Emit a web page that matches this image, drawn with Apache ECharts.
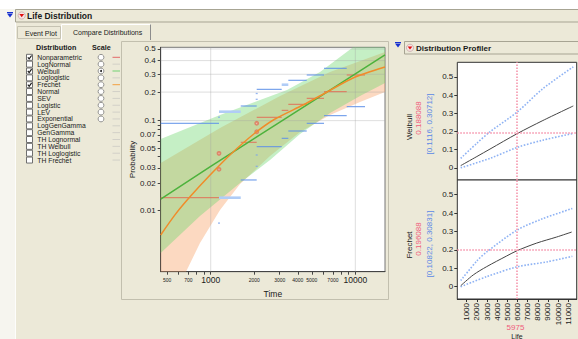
<!DOCTYPE html>
<html>
<head>
<meta charset="utf-8">
<title>Life Distribution</title>
<script src="https://cdn.jsdelivr.net/npm/echarts@6/dist/echarts.min.js"></script>
<style>
  html, body { margin: 0; padding: 0; background: #ece9d8; }
  #chart { width: 578px; height: 339px; }
</style>
</head>
<body>
<div id="chart"></div>
<script>
const FONT = 'Liberation Sans, Arial, sans-serif';

// ---- main probability plot: ticks
const timeMajor = [500, 700, 1000, 2000, 3000, 4000, 5000, 7000, 10000];
const timeMinor = [600, 800, 900, 6000, 8000, 9000];
const timeGrid = [1000, 10000];
const probTicks = [0.01, 0.02, 0.03, 0.05, 0.07, 0.1, 0.2, 0.3, 0.4, 0.5];
const probMinor = [0.04, 0.06, 0.08, 0.09];
const probGrid = [0.1, 0.2, 0.3, 0.4, 0.5];

// nonparametric interval estimates: [start time, end time, probability]
const npEstimate = [[451, 1141, 0.0138], [1613, 2080, 0.0579], [2080, 3097, 0.1087], [3097, 3441, 0.1291],
  [3441, 4613, 0.1495], [4613, 6075, 0.1727], [6075, 8719, 0.2019], [8719, 11670, 0.2952]];
const npUpper = [[451, 1141, 0.0936], [1613, 2080, 0.1434], [2080, 3097, 0.2135], [3441, 4613, 0.2625],
  [4613, 6075, 0.2952], [6075, 8719, 0.3412]];
const npUpperLight = [[1141, 1613, 0.1248], [3097, 3441, 0.2374]];
const npLower = [[1613, 2080, 0.0219], [2080, 3097, 0.0517], [3097, 3441, 0.0641], [3441, 4613, 0.0771],
  [4613, 6075, 0.0936], [6075, 8719, 0.1131], [8719, 11670, 0.141]];
const npLowerLight = [[1141, 1613, 0.0138]];
const npDots = [[1141, 0.109], [2080, 0.1935], [2080, 0.1686], [2080, 0.0418], [2080, 0.0312], [1141, 0.0071]];
const npPoints = [[1141, 0.0436], [1141, 0.0289], [2080, 0.0936], [2080, 0.0757]];

// fitted curves [time, probability]
const weibullFit = [[451, 0.0133], [1000, 0.0312], [5975, 0.188], [16040, 0.447]];
const frechetFit = [[451, 0.0052], [566, 0.0088], [719, 0.0141], [990, 0.0249], [1381, 0.0429], [2025, 0.0733],
  [2784, 0.1042], [4347, 0.147], [6373, 0.2005], [9641, 0.2763], [16040, 0.35]];
const weibullBandUp = [[451, 0.0629], [1160, 0.115], [3371, 0.2101], [5700, 0.3152], [9641, 0.5184], [16040, 0.7467]];
const weibullBandLo = [[451, 0.00324], [843, 0.00855], [1595, 0.0202], [2571, 0.0367], [4145, 0.0715],
  [6683, 0.1209], [10777, 0.1824], [16040, 0.2469]];
const frechetBandUp = [[451, 0.034], [1160, 0.0831], [3015, 0.1824], [6683, 0.3152], [16040, 0.473]];
const frechetBandLo = [[451, 0.0001], [566, 0.00056], [675, 0.00197], [843, 0.00421], [1160, 0.01], [1595, 0.0197],
  [2571, 0.0407], [4145, 0.0752], [6683, 0.115], [10777, 0.158], [16040, 0.2004]];

// ---- profiler [life, probability]
const lifeTicks = [1000, 2000, 3000, 4000, 5000, 6000, 7000, 8000, 9000, 10000, 11000];
const profTicks = [0, 0.1, 0.2, 0.3, 0.4, 0.5];
const lifeValue = 5975;
const weibullProf = [[409, 0.012], [2000, 0.062], [3293, 0.103], [5975, 0.188], [8500, 0.26], [11492, 0.34]];
const weibullProfUp = [[409, 0.052], [2000, 0.135], [3293, 0.198], [5975, 0.307], [8500, 0.435], [11492, 0.555]];
const weibullProfLo = [[409, 0.0], [3293, 0.052], [5975, 0.112], [8500, 0.152], [11492, 0.189]];
const frechetProf = [[409, 0.005], [1650, 0.064], [2969, 0.109], [4937, 0.167], [5975, 0.196], [7890, 0.237],
  [9858, 0.27], [11335, 0.297]];
const frechetProfUp = [[409, 0.033], [2000, 0.14], [3000, 0.19], [5975, 0.308], [8500, 0.37], [11400, 0.425]];
const frechetProfLo = [[409, 0.0], [3000, 0.055], [5975, 0.108], [8900, 0.135], [11400, 0.165]];

// ---- distribution list
const distNames = ['Nonparametric', 'LogNormal', 'Weibull', 'Loglogistic', 'Frechet', 'Normal', 'SEV', 'Logistic',
  'LEV', 'Exponential', 'LogGenGamma', 'GenGamma', 'TH Lognormal', 'TH Weibull', 'TH Loglogistic', 'TH Frechet'];
const distChecked = ['Nonparametric', 'Weibull', 'Frechet'];
const swatch = { Nonparametric: '#e46a6a', Weibull: '#72d272', Frechet: '#f2a040' };

// scales: log10 time, weibull probability
const lg = v => Math.log10(v);
const wb = p => Math.log(-Math.log(1 - p));
const unwb = w => 1 - Math.exp(-Math.exp(w));
const pt = d => [lg(d[0]), wb(d[1])];
const X_MIN = lg(451), X_MAX = lg(16040);
const Y_MIN = -6.222, Y_MAX = -0.322;

const clampTo = (p, cs) => [Math.min(Math.max(p[0], cs.x), cs.x + cs.width),
  Math.min(Math.max(p[1], cs.y), cs.y + cs.height)];

function band(upper, lower, color) {
  return {
    type: 'custom', z: 1, silent: true,
    data: [[X_MIN, Y_MIN]],
    renderItem: (params, api) => {
      const pts = upper.concat(lower.slice().reverse()).map(d => clampTo(api.coord(pt(d)), params.coordSys));
      return { type: 'polygon', shape: { points: pts }, style: { fill: color } };
    }
  };
}

function segments(list, color, width) {
  return {
    type: 'custom', z: 3, silent: true,
    data: list.map(s => [lg(s[0]), lg(s[1]), wb(s[2])]),
    encode: { x: [0, 1], y: 2 },
    renderItem: (params, api) => {
      const a = api.coord([api.value(0), api.value(2)]);
      const b = api.coord([api.value(1), api.value(2)]);
      return { type: 'line', shape: { x1: a[0], y1: a[1], x2: b[0], y2: b[1] }, style: { stroke: color, lineWidth: width } };
    }
  };
}

const gridLines = timeGrid.map(t => [lg(t), Y_MIN, lg(t), Y_MAX])
  .concat(probGrid.map(p => [X_MIN, wb(p), X_MAX, wb(p)]));

// ---- chrome
const g = [];
const txt = (text, x, y, o = {}) => g.push({
  type: 'text', x, y, rotation: o.rot || 0, silent: true,
  style: { text, fill: o.color || '#1a1a1a', fontSize: o.size || 7.5, fontWeight: o.bold ? 'bold' : 'normal',
    fontFamily: FONT, align: o.align || 'left', verticalAlign: 'middle', textAlign: o.align || 'left', textVerticalAlign: 'middle' }
});
const rect = (x, y, w, h, fill, stroke) => g.push({ type: 'rect', silent: true, shape: { x, y, width: w, height: h }, style: { fill, stroke, lineWidth: 1 } });
const ln = (x1, y1, x2, y2, stroke, lw = 1) => g.push({ type: 'line', silent: true, shape: { x1, y1, x2, y2 }, style: { stroke, lineWidth: lw } });
const tri = (x, y, fill) => g.push({ type: 'polygon', silent: true, shape: { points: [[x, y], [x + 6, y], [x + 3, y + 4]] }, style: { fill } });
const redIcon = (x, y) => {
  g.push({ type: 'circle', silent: true, shape: { cx: x, cy: y, r: 3.6 }, style: { fill: '#f6e4e4', stroke: '#c8a8a8', lineWidth: 0.8 } });
  g.push({ type: 'polygon', silent: true, shape: { points: [[x - 2.4, y - 1.4], [x + 2.4, y - 1.4], [x, y + 1.8]] }, style: { fill: '#e01010' } });
};

rect(0, 0, 578, 9, '#ffffff', 'none');
rect(0, 9, 15, 330, '#f6f5ef', 'none');
ln(15.5, 22, 15.5, 339, '#fdfdfb');
rect(15.5, 9.5, 570, 12.5, '#ece9d8', '#a7a493');
tri(7, 13.5, '#1630d0');
ln(7, 12.5, 13, 12.5, '#1630d0');
redIcon(21.7, 15.5);
txt('Life Distribution', 27, 16, { bold: true, size: 8.5 });

rect(17.5, 26.5, 43, 12, '#ece9d8', '#c6c3b2');
txt('Event Plot', 25, 33, { size: 7 });
ln(61.5, 40, 61.5, 24.5, '#ffffff');
ln(61.5, 24.5, 150.5, 24.5, '#ffffff');
ln(150.5, 24.5, 150.5, 40, '#8c8c8c');
txt('Compare Distributions', 73, 32, { size: 7 });

txt('Distribution', 36, 47, { bold: true, size: 7.2 });
txt('Scale', 92, 47, { bold: true, size: 7.2 });
distNames.forEach((name, i) => {
  const y = 57.3 + i * 6.85;
  rect(26.5, y - 3, 6, 6, '#ffffff', '#6f6f6f');
  if (distChecked.includes(name)) {
    g.push({ type: 'polyline', silent: true, shape: { points: [[27.8, y], [29.2, y + 1.6], [31.6, y - 1.8]] }, style: { stroke: '#1a1a1a', lineWidth: 1.2, fill: 'none' } });
  }
  txt(name, 37.3, y, { size: 6.8 });
  if (i < 10) {
    g.push({ type: 'circle', silent: true, shape: { cx: 101, cy: y, r: 2.9 }, style: { fill: '#ffffff', stroke: '#7a7a7a', lineWidth: 0.8 } });
    if (name === 'Weibull') g.push({ type: 'circle', silent: true, shape: { cx: 101, cy: y, r: 1 }, style: { fill: '#222' } });
  }
  ln(112.5, y, 120, y, swatch[name] || '#d2d0c8');
});

rect(121.5, 41.5, 267, 258, 'none', '#c2bfae');

tri(395, 43.5, '#1630d0');
ln(395, 42.5, 401, 42.5, '#1630d0');
rect(404.5, 41.5, 180, 12.5, '#ece9d8', '#a7a493');
redIcon(410, 47.8);
txt('Distribution Profiler', 416, 48.3, { bold: true, size: 8 });

txt('Weibull', 409.5, 127, { rot: Math.PI / 2, align: 'center', size: 8 });
txt('0.188088', 418.5, 118, { rot: Math.PI / 2, align: 'center', size: 8, color: '#f05c7c' });
txt('[0.1116, 0.30712]', 429, 124, { rot: Math.PI / 2, align: 'center', size: 8, color: '#5a88e6' });
txt('Frechet', 409.5, 245, { rot: Math.PI / 2, align: 'center', size: 8 });
txt('0.196088', 418.5, 239, { rot: Math.PI / 2, align: 'center', size: 8, color: '#f05c7c' });
txt('[0.10822, 0.30831]', 429, 244, { rot: Math.PI / 2, align: 'center', size: 8, color: '#5a88e6' });
txt(String(lifeValue), 515.5, 327, { align: 'center', size: 8, color: '#f05c7c' });
txt('Life', 517, 336.2, { align: 'center', size: 7 });

// ---- axes helpers
const mainLabel = { color: '#1a1a1a', fontFamily: FONT };
const profY = (gi) => ({
  gridIndex: gi, type: 'value', min: -0.067, max: 0.58,
  axisLine: { show: false },
  axisTick: { show: true, customValues: profTicks, length: 3, lineStyle: { color: '#333' } },
  axisLabel: { customValues: profTicks, margin: 4, fontSize: 8, color: '#1a1a1a', fontFamily: FONT,
    formatter: v => (Math.abs(v) < 1e-9 ? '0' : v.toFixed(1)) },
  splitLine: { show: false }
});
const crossLine = (yv) => ({
  silent: true, symbol: 'none', label: { show: false },
  lineStyle: { color: '#f590a8', type: 'dotted', width: 1.5 },
  data: [{ xAxis: lifeValue }, { yAxis: yv }]
});
const profLine = (gi, data, dotted) => ({
  type: 'line', xAxisIndex: gi, yAxisIndex: gi, data, showSymbol: false, smooth: 0.3, silent: true,
  lineStyle: dotted ? { color: '#8fb3f4', type: 'dotted', width: 1.6 } : { color: '#444', width: 1 }
});

const option = {
  animation: false,
  grid: [
    { left: 160.7, top: 47.3, width: 224.3, height: 224.4, show: true, backgroundColor: '#fff', borderColor: '#777', outerBoundsMode: 'none' },
    { left: 457.3, top: 62.3, width: 119.4, height: 117.7, show: true, backgroundColor: '#fff', borderColor: '#333', outerBoundsMode: 'none' },
    { left: 457.3, top: 180, width: 119.4, height: 119, show: true, backgroundColor: '#fff', borderColor: '#333', outerBoundsMode: 'none' }
  ],
  xAxis: [
    {
      gridIndex: 0, type: 'value', min: X_MIN, max: X_MAX,
      axisLine: { show: true, onZero: false, lineStyle: { color: '#444' } },
      axisTick: { show: true, customValues: timeMajor.concat(timeMinor).map(lg), length: 3, lineStyle: { color: '#444' } },
      axisLabel: {
        customValues: timeMajor.map(lg), margin: 3.5,
        formatter: v => {
          const t = Math.round(Math.pow(10, v) / 100) * 100;
          return timeGrid.includes(t) ? '{b|' + t + '}' : '{s|' + t + '}';
        },
        rich: { b: { fontSize: 8.5, lineHeight: 10, color: '#1a1a1a', fontFamily: FONT }, s: { fontSize: 5, lineHeight: 10, color: '#1a1a1a', fontFamily: FONT } }
      },
      splitLine: { show: false },
      name: 'Time', nameLocation: 'middle', nameGap: 16,
      nameTextStyle: { fontSize: 8.5, ...mainLabel }
    },
    { gridIndex: 1, type: 'value', min: 75, max: 11830, axisLine: { show: false, onZero: false }, axisTick: { show: false }, axisLabel: { show: false }, splitLine: { show: false } },
    {
      gridIndex: 2, type: 'value', min: 75, max: 11830,
      axisLine: { show: true, onZero: false, lineStyle: { color: '#333' } },
      axisTick: { show: true, customValues: lifeTicks, length: 3, lineStyle: { color: '#333' } },
      axisLabel: { customValues: lifeTicks, rotate: 90, margin: 4, fontSize: 8, color: '#1a1a1a', fontFamily: FONT,
        formatter: v => String(Math.round(v)) },
      splitLine: { show: false }
    }
  ],
  yAxis: [
    {
      gridIndex: 0, type: 'value', min: Y_MIN, max: Y_MAX,
      axisLine: { show: true, onZero: false, lineStyle: { color: '#444' } },
      axisTick: { show: true, customValues: probTicks.concat(probMinor).map(wb), length: 3, lineStyle: { color: '#444' } },
      axisLabel: {
        customValues: probTicks.map(wb), margin: 5, fontSize: 8, ...mainLabel,
        formatter: v => {
          const p = unwb(v);
          let best = probTicks[0];
          probTicks.forEach(q => { if (Math.abs(q - p) < Math.abs(best - p)) best = q; });
          return String(best);
        }
      },
      splitLine: { show: false },
      name: 'Probability', nameLocation: 'middle', nameGap: 24,
      nameTextStyle: { fontSize: 8, ...mainLabel }
    },
    profY(1),
    profY(2)
  ],
  series: [
    band(frechetBandUp, frechetBandLo, 'rgba(248,160,100,0.40)'),
    band(weibullBandUp, weibullBandLo, 'rgba(110,215,110,0.40)'),
    {
      type: 'custom', z: 2, silent: true, data: gridLines, encode: { x: [0, 2], y: [1, 3] },
      renderItem: (params, api) => {
        const a = api.coord([api.value(0), api.value(1)]);
        const b = api.coord([api.value(2), api.value(3)]);
        return { type: 'line', shape: { x1: a[0], y1: a[1], x2: b[0], y2: b[1] }, style: { stroke: 'rgba(160,160,160,0.35)', lineWidth: 1 } };
      }
    },
    segments(npUpperLight, '#b0ccf6', 2.6),
    segments(npLowerLight, '#b0ccf6', 2.6),
    segments(npUpper, '#5d90e8', 1),
    segments(npLower, '#5d90e8', 1),
    segments(npEstimate, '#e07258', 1),
    {
      type: 'scatter', z: 3, silent: true, data: npDots.map(pt), symbol: 'rect', symbolSize: [2, 1.3],
      itemStyle: { color: '#7aa4ec' }
    },
    {
      type: 'scatter', z: 4, silent: true, data: npPoints.map(pt), symbol: 'emptyCircle', symbolSize: 2.8,
      itemStyle: { color: '#e07258', borderWidth: 0.8 }
    },
    {
      type: 'line', z: 5, silent: true, data: weibullFit.map(pt), showSymbol: false,
      lineStyle: { color: '#4db23c', width: 1.5 }
    },
    {
      type: 'line', z: 5, silent: true, data: frechetFit.map(pt), showSymbol: false, smooth: 0.25,
      lineStyle: { color: '#f08c2a', width: 1.5 }
    },
    profLine(1, weibullProfUp, true),
    profLine(1, weibullProfLo, true),
    Object.assign(profLine(1, weibullProf, false), { markLine: crossLine(0.188) }),
    profLine(2, frechetProfUp, true),
    profLine(2, frechetProfLo, true),
    Object.assign(profLine(2, frechetProf, false), { markLine: crossLine(0.196) })
  ],
  graphic: { elements: g }
};

const chart = echarts.init(document.getElementById('chart'), null, { renderer: 'svg' });
chart.setOption(option);
</script>
</body>
</html>
